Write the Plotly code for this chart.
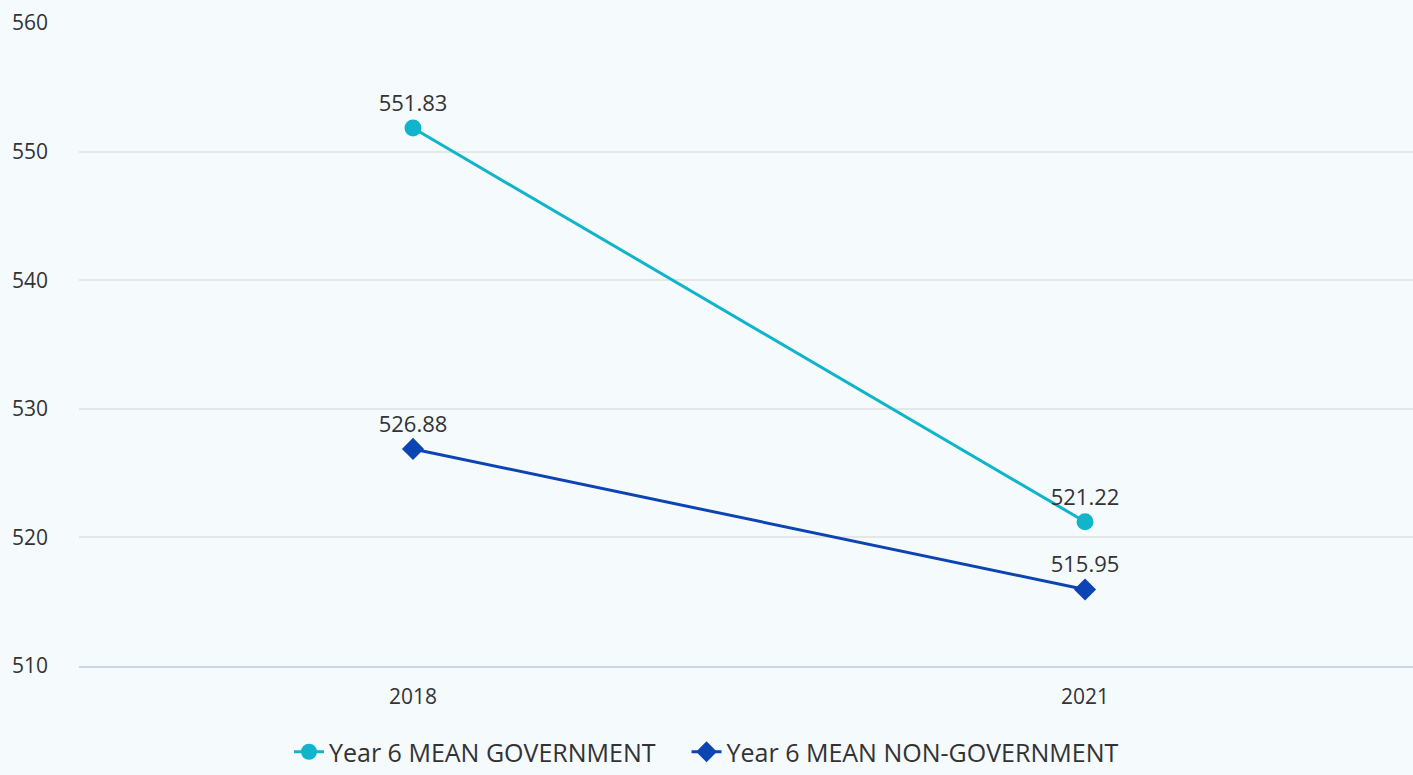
import plotly.graph_objects as go

categories = ["2018", "2021"]
gov_values = [551.83, 521.22]
nongov_values = [526.88, 515.95]
y_ticks = [510, 520, 530, 540, 550, 560]
series_names = ["Year 6 MEAN GOVERNMENT", "Year 6 MEAN NON-GOVERNMENT"]

FONT = "Open Sans"
TEXT = "#333333"
BG = "#f5fafd"

fig = go.Figure()
fig.add_trace(go.Scatter(
    x=[0, 1], y=gov_values, mode="lines+markers+text",
    name=series_names[0] + "\u00a0" * 4,
    line=dict(color="#10b4cb", width=3),
    marker=dict(symbol="circle", size=17, color="#10b4cb"),
    text=[f"{v:.2f}" for v in gov_values], textposition="top center",
    textfont=dict(family=FONT, size=22, color=TEXT),
))
fig.add_trace(go.Scatter(
    x=[0, 1], y=nongov_values, mode="lines+markers+text",
    name=series_names[1],
    line=dict(color="#0c44b3", width=3),
    marker=dict(symbol="diamond", size=17, color="#0c44b3"),
    text=[f"{v:.2f}" for v in nongov_values], textposition="top center",
    textfont=dict(family=FONT, size=22, color=TEXT),
))

fig.update_layout(
    width=1413, height=775,
    margin=dict(l=79, r=0, t=23, b=109),
    paper_bgcolor=BG, plot_bgcolor=BG,
    font=dict(family=FONT, color=TEXT),
    showlegend=True,
    legend=dict(orientation="h", x=0.5, xanchor="center", xref="container",
                yref="container", y=0.0, yanchor="bottom",
                font=dict(family=FONT, size=25, color=TEXT), itemwidth=30,
                tracegroupgap=0, bgcolor="rgba(0,0,0,0)"),
    xaxis=dict(range=[-0.497, 1.488], tickmode="array", tickvals=[0, 1], ticktext=categories,
               showgrid=False, zeroline=False, showline=True, linecolor="#ccd6eb", linewidth=2,
               tickfont=dict(family=FONT, size=21, color=TEXT), ticks="", ticklabelstandoff=11),
    yaxis=dict(range=[510, 560], tickvals=y_ticks, showgrid=True, gridcolor="#e4e6e8", gridwidth=1.5,
               zeroline=False, showline=False,
               tickfont=dict(family=FONT, size=21, color=TEXT), ticklabelstandoff=30),
)

fig.write_html(
    "out.html",
    config={"displayModeBar": False},
    post_script="document.body.style.margin='0';document.body.style.background='#f5fafd';",
)
